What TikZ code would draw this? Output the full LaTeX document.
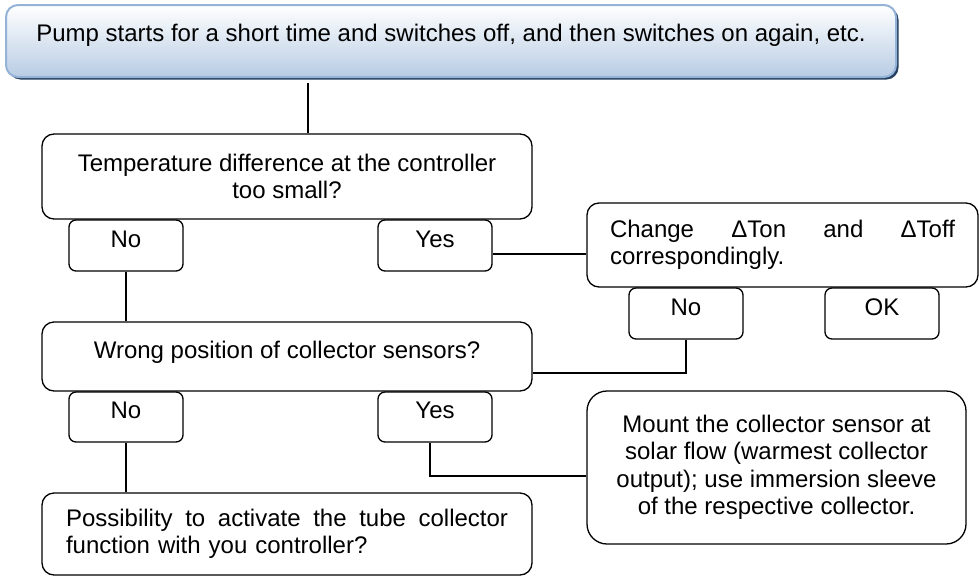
\documentclass[tikz,border=0pt]{standalone}
\usepackage{fontspec}
\setmainfont{Liberation Sans}
\usetikzlibrary{shadows}
\definecolor{topborder}{HTML}{95B3D7}
\definecolor{topfill}{HTML}{B8CCE4}
\definecolor{topshadow}{HTML}{243F60}
\tikzset{
  x=1pt, y=-1pt,
  every node/.style={font=\fontsize{24}{27.5}\selectfont},
  box/.style={draw, line width=1.3pt, rounded corners=12pt, inner sep=0pt},
  smallbox/.style={box, rounded corners=7pt, minimum width=114pt, minimum height=51pt, text depth=13pt},
  conn/.style={line width=1.8pt},
  topbox/.style={draw=topborder, line width=2pt, rounded corners=12pt, top color=white, bottom color=topfill,
    general shadow={shadow xshift=2.5pt, shadow yshift=-2.5pt, fill=topshadow, rounded corners=12pt},
    minimum width=890pt, minimum height=72pt, inner sep=0pt, text depth=16pt}
}
\begin{document}
\begin{tikzpicture}
\useasboundingbox (0,0) rectangle (979,576);
\node[topbox] (top) at (451,41) {Pump starts for a short time and switches off, and then switches on again, etc.};
\node[box, minimum width=490pt, minimum height=85pt, align=center] (temp) at (287,176.5) {Temperature difference at the controller\\too small?};
\node[smallbox] (no1) at (126,245.5) {No};
\node[smallbox] (yes1) at (435,245.5) {Yes};
\node[box, minimum width=391pt, minimum height=84pt, text width=345pt, align=left] (change) at (782.5,245) {Change\hfill ΔTon\hfill and\hfill ΔToff\\correspondingly.};
\node[smallbox] (no2) at (686,313.5) {No};
\node[smallbox] (ok) at (882,313.5) {OK};
\node[box, minimum width=490pt, minimum height=69pt, text depth=13pt] (wrong) at (287,356.5) {Wrong position of collector sensors?};
\node[smallbox, minimum height=50pt] (no3) at (126,417) {No};
\node[smallbox, minimum height=50pt] (yes3) at (435,417) {Yes};
\node[box, rounded corners=20pt, minimum width=379pt, minimum height=153pt, align=center] (mount) at (776.5,467.5) {Mount the collector sensor at\\solar flow (warmest collector\\output); use immersion sleeve\\of the respective collector.};
\node[box, minimum width=490pt, minimum height=82pt, text width=442pt, align=left] (poss) at (287,534) {Possibility\hfill to\hfill activate\hfill the\hfill tube\hfill collector\\function with you controller?};
\coordinate (t1) at (308,83);
\draw[conn] (t1) -- (t1 |- temp.north);
\draw[conn] (no1.south) -- (no1.south |- wrong.north);
\draw[conn] ([yshift=-8.5pt]yes1.east) -- ([yshift=-8.5pt]yes1.east -| change.west);
\draw[conn] (no2.south) |- ([yshift=-16.5pt]wrong.east);
\draw[conn] (no3.south) -- (no3.south |- poss.north);
\draw[conn] ([xshift=-5pt]yes3.south) |- ([yshift=-8.5pt]mount.west);
\end{tikzpicture}
\end{document}
